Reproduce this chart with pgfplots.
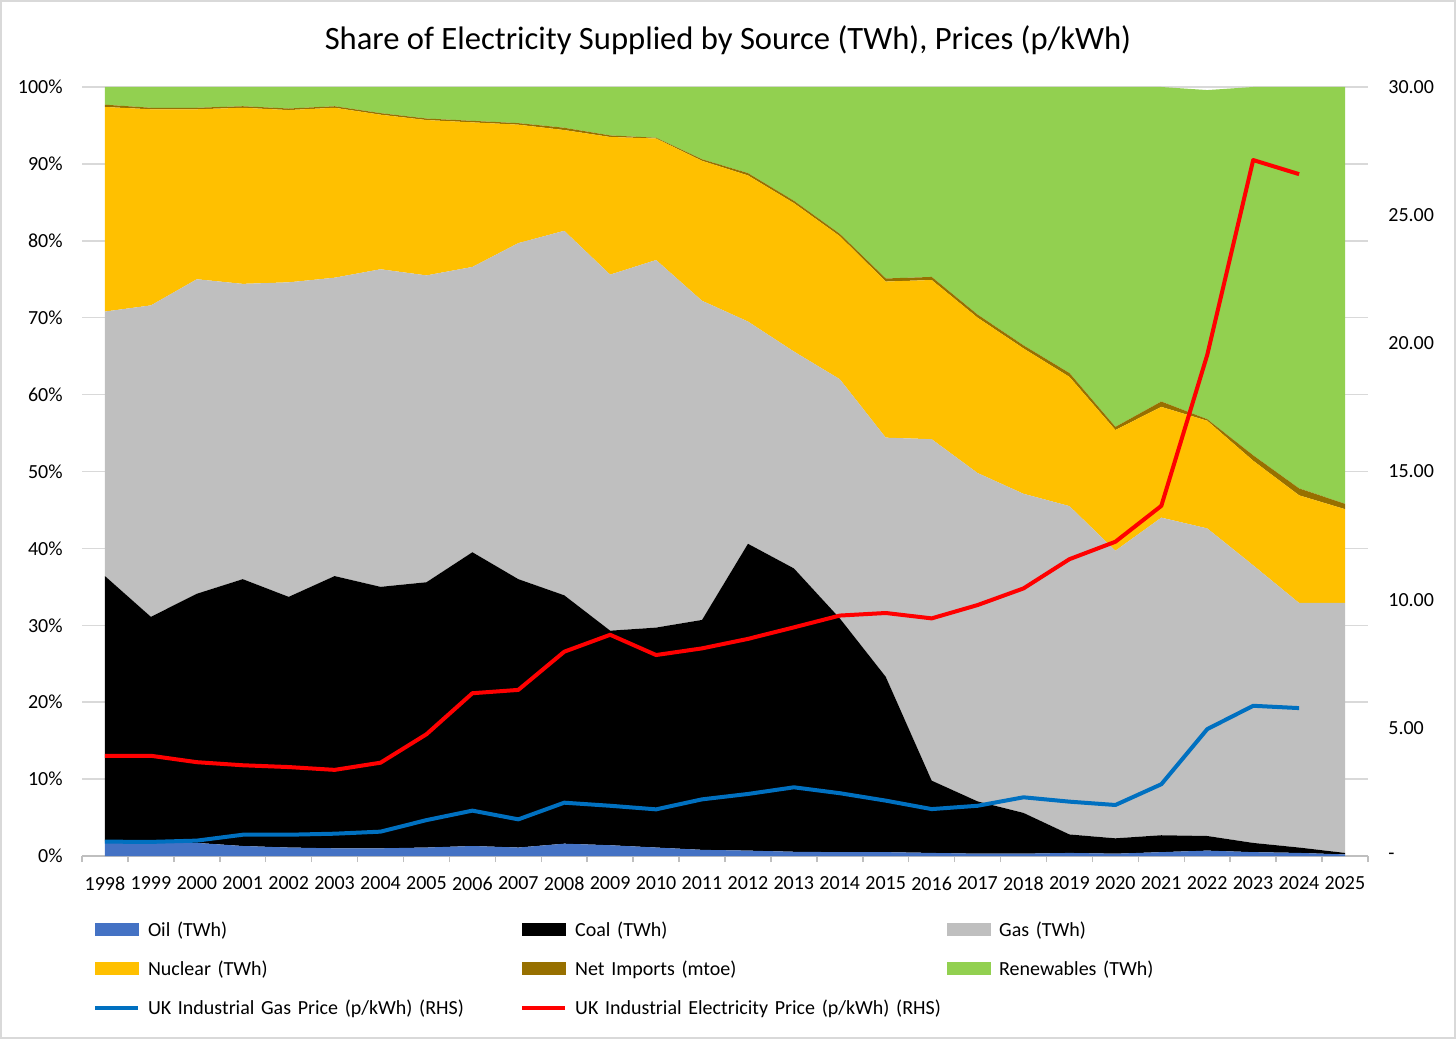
\documentclass[border=0pt]{standalone}
\usepackage{fontspec}
\setmainfont{Carlito}
\usepackage{pgfplots}
\usepackage{pgfplotstable}
\pgfplotsset{compat=1.18}

\definecolor{oilc}{HTML}{4472C4}
\definecolor{coalc}{HTML}{000000}
\definecolor{gasc}{HTML}{BFBFBF}
\definecolor{nucc}{HTML}{FFC000}
\definecolor{impc}{HTML}{977000}
\definecolor{renc}{HTML}{92D050}
\definecolor{gaspc}{HTML}{0070C0}
\definecolor{elecpc}{HTML}{FF0000}
\definecolor{gridc}{HTML}{D9D9D9}
\definecolor{axc}{HTML}{BFBFBF}

% shares of supply, % of total (stacked)
\pgfplotstableread{
year oil coal gas nuclear imports renew
1998 1.9 34.5 34.4 26.6 0.3 2.3
1999 1.9 29.2 40.5 25.5 0.2 2.7
2000 1.7 32.4 40.9 22.1 0.2 2.7
2001 1.3 34.7 38.4 22.9 0.2 2.5
2002 1.1 32.6 40.9 22.4 0.2 2.8
2003 1.0 35.4 38.8 22.1 0.2 2.5
2004 1.0 34.0 41.3 20.1 0.2 3.4
2005 1.1 34.5 39.9 20.2 0.2 4.1
2006 1.3 38.2 37.1 18.8 0.2 4.4
2007 1.1 34.9 43.7 15.4 0.2 4.7
2008 1.6 32.3 47.4 13.1 0.3 5.3
2009 1.4 27.9 46.3 17.9 0.2 6.3
2010 1.1 28.6 47.8 15.8 0.1 6.6
2011 0.8 29.9 41.5 18.2 0.2 9.4
2012 0.7 39.9 28.9 19.0 0.3 11.2
2013 0.55 36.85 28.2 19.3 0.3 14.8
2014 0.5 30.4 31.1 18.6 0.3 19.1
2015 0.5 22.8 31.1 20.3 0.4 24.9
2016 0.4 9.4 44.4 20.7 0.4 24.7
2017 0.3 6.8 42.7 20.2 0.4 29.6
2018 0.3 5.3 41.5 18.9 0.4 33.6
2019 0.4 2.4 42.7 16.8 0.5 37.2
2020 0.3 2.0 37.4 15.7 0.4 44.2
2021 0.5 2.2 41.3 14.4 0.7 40.9
2022 0.7 1.9 40.0 14.0 0.2 42.8
2023 0.5 1.2 36.1 13.6 0.7 47.9
2024 0.4 0.7 31.8 14.0 0.9 52.2
2025 0.2 0.2 32.5 12.2 0.7 54.2
}\shares

% industrial prices, p/kWh
\pgfplotstableread{
year gasp elecp
1998 0.56 3.91
1999 0.55 3.91
2000 0.60 3.66
2001 0.83 3.54
2002 0.83 3.47
2003 0.87 3.36
2004 0.95 3.64
2005 1.40 4.75
2006 1.77 6.35
2007 1.43 6.48
2008 2.08 7.97
2009 1.96 8.63
2010 1.82 7.84
2011 2.21 8.10
2012 2.42 8.47
2013 2.68 8.92
2014 2.45 9.38
2015 2.16 9.48
2016 1.83 9.27
2017 1.96 9.79
2018 2.29 10.44
2019 2.12 11.58
2020 1.99 12.26
2021 2.80 13.66
2022 4.95 19.55
2023 5.86 27.15
2024 5.77 26.60
}\prices

\begin{document}
\begin{tikzpicture}[font=\fontsize{10}{12}\selectfont]
\path[use as bounding box] (-41pt,-91.5pt) rectangle (687pt,428pt);
\draw[gridc, line width=0.75pt] (-40.6pt,-91.1pt) rectangle (686.6pt,427.6pt);

\begin{axis}[
  scale only axis, width=643pt, height=384.5pt,
  xmin=1997.5, xmax=2025.5, ymin=0, ymax=100,
  stack plots=y,
  axis x line*=bottom, axis y line*=left,
  axis line style={-},
  x axis line style={draw=axc, line width=0.75pt},
  y axis line style={draw=none},
  xtick={1998,...,2025},
  minor xtick={1997.5,1998.5,...,2025.5},
  tick align=outside, major tick length=0pt, minor tick length=3pt,
  xtick style={draw=axc, line width=0.75pt},
  ytick style={draw=none},
  ytick={0,10,...,100},
  yticklabels={0\%,10\%,20\%,30\%,40\%,50\%,60\%,70\%,80\%,90\%,100\%},
  ymajorgrids, major grid style={draw=gridc, line width=0.75pt},
  tick label style={font=\fontsize{10}{12}\selectfont},
  /pgf/number format/assume math mode=true,
  /pgf/number format/1000 sep={},
  xticklabel style={inner sep=0pt, anchor=north, yshift=-10.3pt},
  yticklabel style={inner sep=0pt, anchor=east, xshift=-9.5pt},
]
\addplot[fill=oilc, draw=none] table[x=year, y=oil] {\shares} \closedcycle;
\addplot[fill=coalc, draw=none] table[x=year, y=coal] {\shares} \closedcycle;
\addplot[fill=gasc, draw=none] table[x=year, y=gas] {\shares} \closedcycle;
\addplot[fill=nucc, draw=none] table[x=year, y=nuclear] {\shares} \closedcycle;
\addplot[fill=impc, draw=none] table[x=year, y=imports] {\shares} \closedcycle;
\addplot[fill=renc, draw=none] table[x=year, y=renew] {\shares} \closedcycle;
\end{axis}

\begin{axis}[
  scale only axis, width=643pt, height=384.5pt,
  xmin=1997.5, xmax=2025.5, ymin=0, ymax=30,
  axis x line=none, axis y line*=right,
  y axis line style={draw=none}, ytick style={draw=none},
  ytick={0,5,...,30},
  yticklabels={-,5.00,10.00,15.00,20.00,25.00,30.00},
  tick label style={font=\fontsize{10}{12}\selectfont},
  yticklabel style={inner sep=0pt, anchor=west, xshift=10pt},
  legend columns=3, legend cell align=left,
  legend style={at={(0,0)}, anchor=north west, xshift=5.5pt, yshift=-27.8pt,
    draw=none, fill=none, inner sep=0pt, outer sep=0pt, row sep=0pt,
    font=\fontsize{10}{12}\selectfont,
    nodes={text width=185.6pt, align=left, inner sep=0pt, minimum height=19.5pt,
      text height=7pt, text depth=2pt},
    /tikz/every odd column/.append style={column sep=4pt},
    /tikz/every even column/.append style={column sep=0.5pt}},
]
\addlegendimage{legend image code/.code={\fill[oilc] (0pt,-2.2pt) rectangle (21.5pt,3.8pt);}}
\addlegendentry{Oil (TWh)}
\addlegendimage{legend image code/.code={\fill[coalc] (0pt,-2.2pt) rectangle (21.5pt,3.8pt);}}
\addlegendentry{Coal (TWh)}
\addlegendimage{legend image code/.code={\fill[gasc] (0pt,-2.2pt) rectangle (21.5pt,3.8pt);}}
\addlegendentry{Gas (TWh)}
\addlegendimage{legend image code/.code={\fill[nucc] (0pt,-2.2pt) rectangle (21.5pt,3.8pt);}}
\addlegendentry{Nuclear (TWh)}
\addlegendimage{legend image code/.code={\fill[impc] (0pt,-2.2pt) rectangle (21.5pt,3.8pt);}}
\addlegendentry{Net Imports (mtoe)}
\addlegendimage{legend image code/.code={\fill[renc] (0pt,-2.2pt) rectangle (21.5pt,3.8pt);}}
\addlegendentry{Renewables (TWh)}

\addplot[gaspc, line width=2pt, line join=round,
  legend image code/.code={\draw[gaspc, line width=2pt] (0pt,0.8pt) -- (21.5pt,0.8pt);}]
  table[x=year, y=gasp] {\prices};
\addlegendentry{UK Industrial Gas Price (p/kWh) (RHS)}
\addplot[elecpc, line width=2pt, line join=round,
  legend image code/.code={\draw[elecpc, line width=2pt] (0pt,0.8pt) -- (21.5pt,0.8pt);}]
  table[x=year, y=elecp] {\prices};
\addlegendentry{UK Industrial Electricity Price (p/kWh) (RHS)}
\end{axis}

\node[anchor=base, font=\fontsize{16.3}{20}\selectfont] at (323pt,403pt)
  {Share of Electricity Supplied by Source (TWh), Prices (p/kWh)};
\end{tikzpicture}
\end{document}
